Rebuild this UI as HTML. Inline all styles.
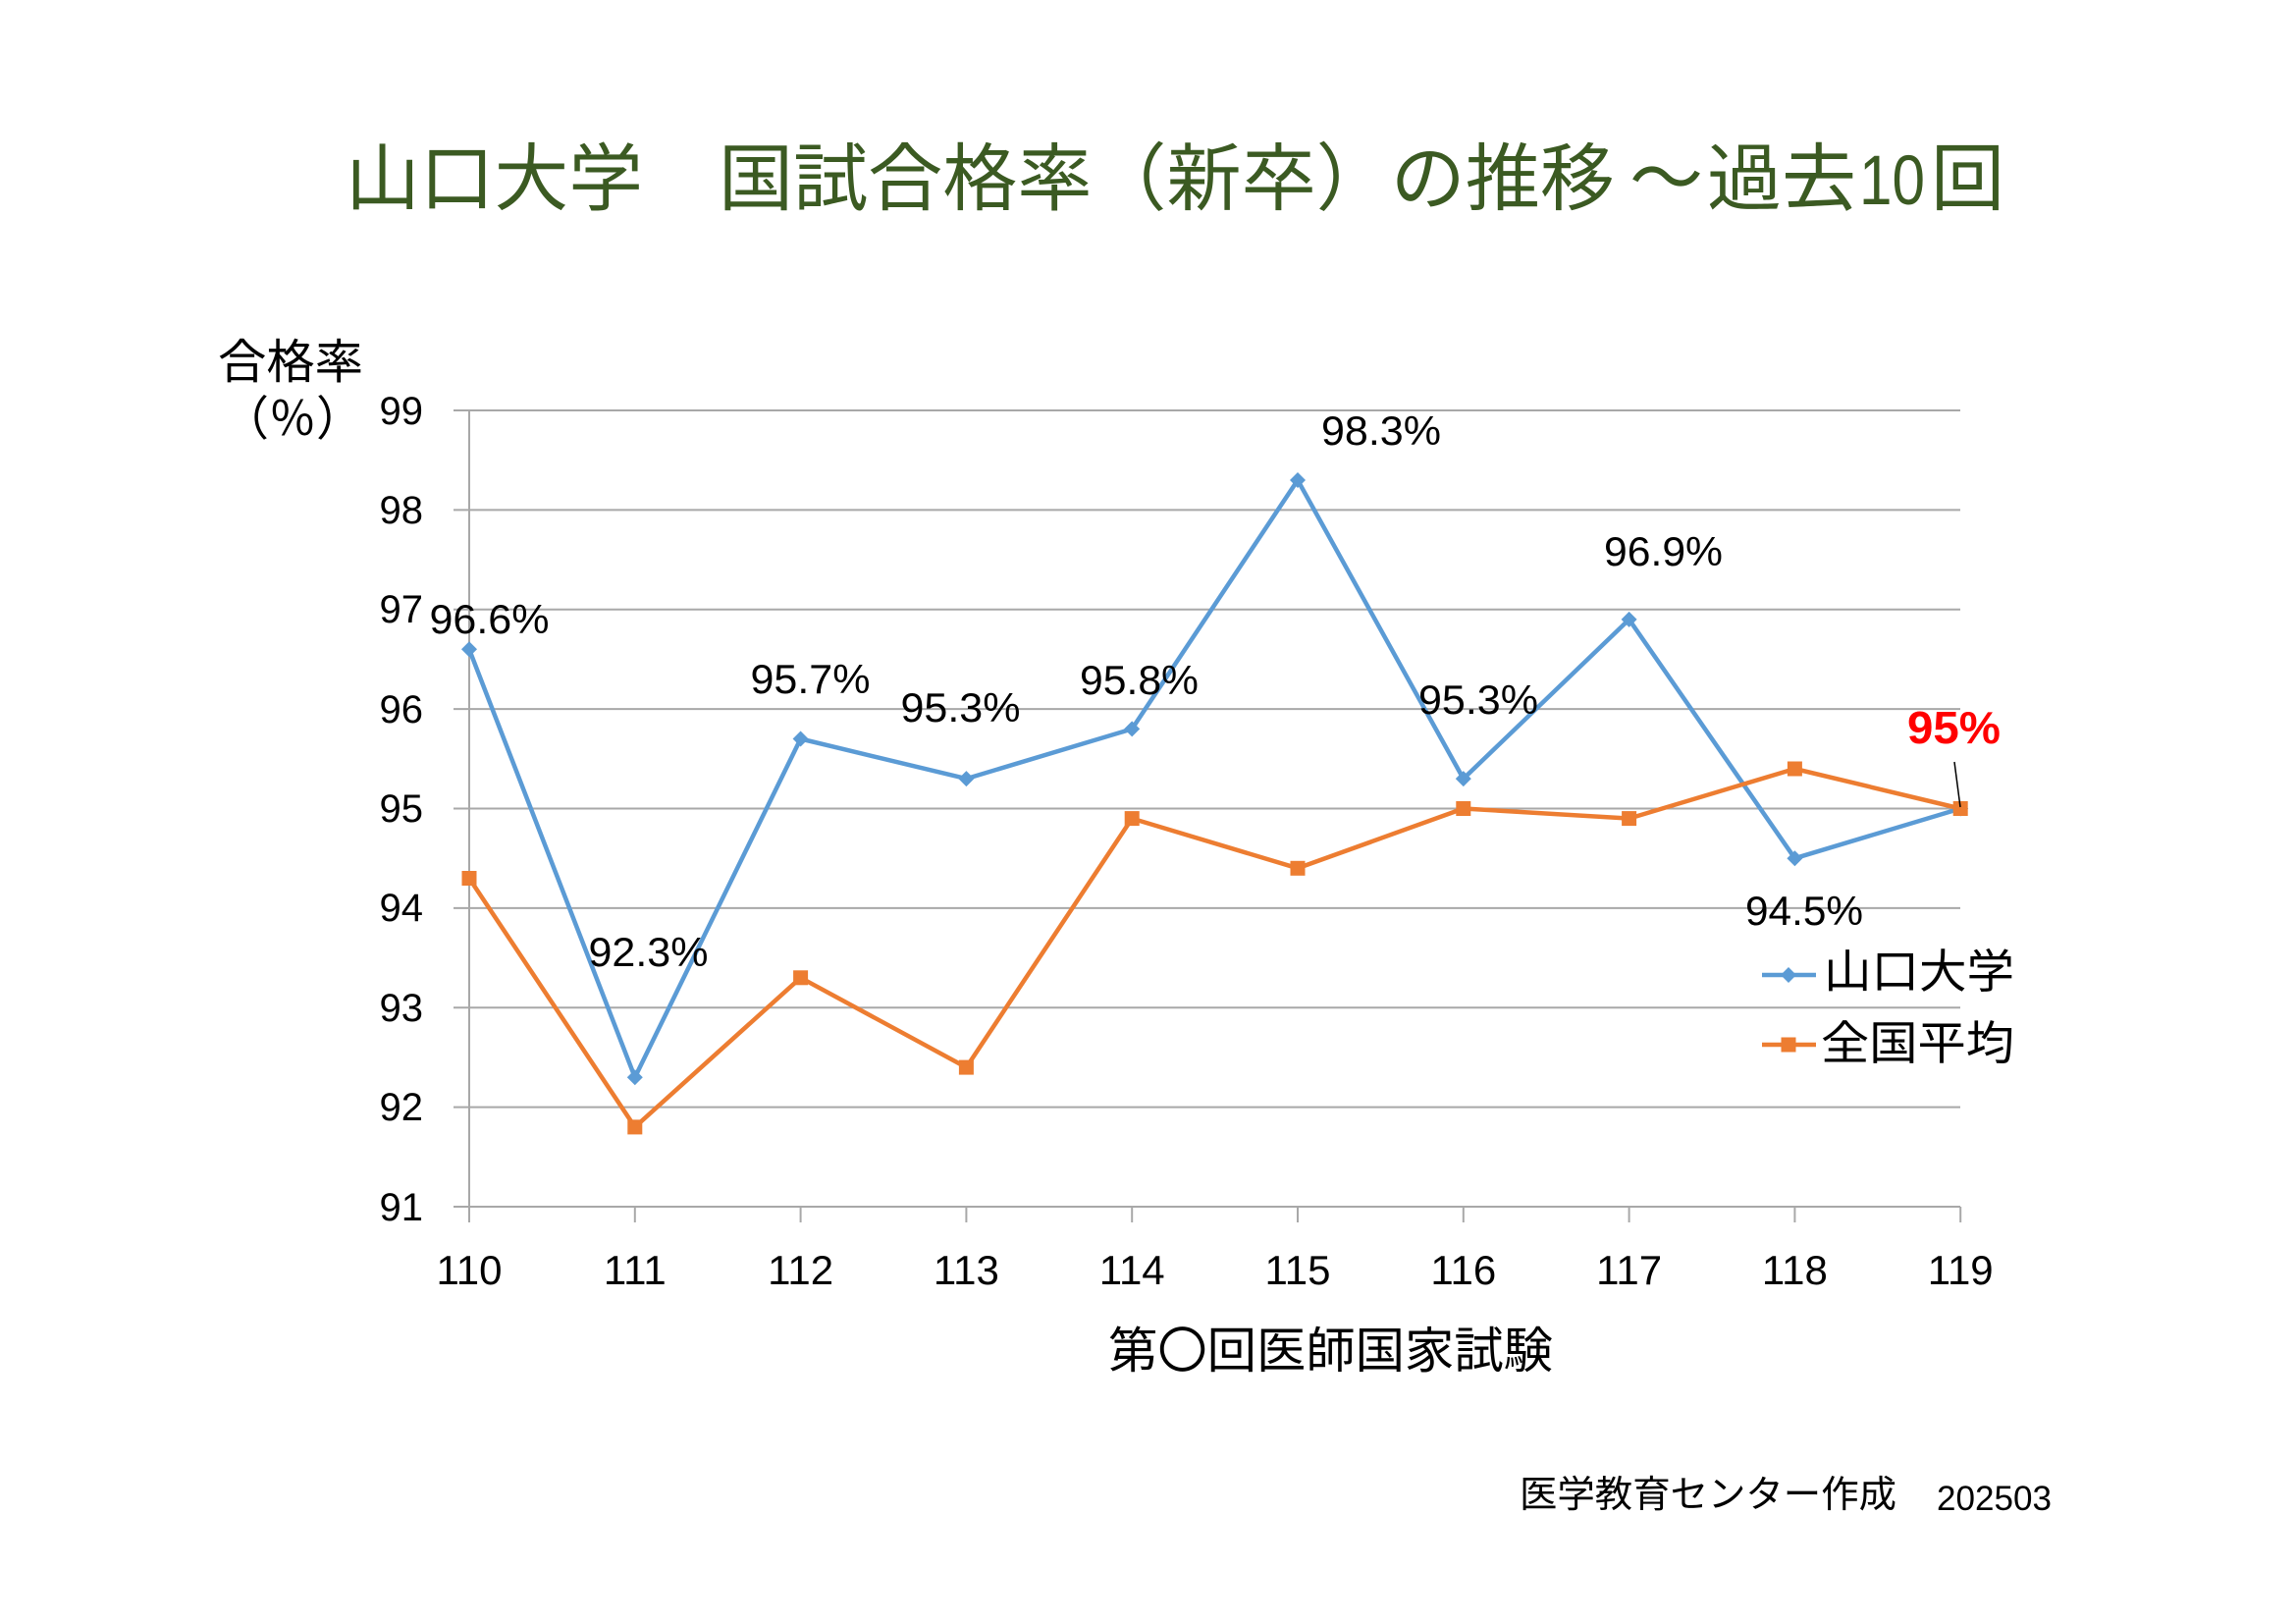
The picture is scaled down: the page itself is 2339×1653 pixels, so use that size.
<!DOCTYPE html>
<html>
<head>
<meta charset="utf-8">
<style>
html,body{margin:0;padding:0;background:#fff;}
svg{display:block;}
.cjk{font-family:"Liberation Sans","Noto Sans CJK JP",sans-serif;}
.lat{font-family:"Liberation Sans",sans-serif;}
</style>
</head>
<body>
<svg width="2339" height="1653" viewBox="0 0 2339 1653" xmlns="http://www.w3.org/2000/svg">
<rect width="2339" height="1653" fill="#fff"/>

<!-- Title -->
<g fill="#3B5A22" class="cjk" font-size="75">
  <text x="352" y="208" textLength="303" lengthAdjust="spacingAndGlyphs">山口大学</text>
  <text x="732" y="208" textLength="913" lengthAdjust="spacingAndGlyphs">国試合格率（新卒）の推移</text>
  <text x="1660" y="208">～</text>
  <text x="1739" y="208" textLength="152" lengthAdjust="spacingAndGlyphs">過去</text>
  <text x="1894" y="208" class="lat" font-size="71" textLength="67" lengthAdjust="spacingAndGlyphs">10</text>
  <text x="1967" y="208">回</text>
</g>

<!-- Gridlines -->
<g stroke="#A8A8A8" stroke-width="2">
  <line x1="462" y1="418" x2="1997" y2="418"/>
  <line x1="462" y1="519.4" x2="1997" y2="519.4"/>
  <line x1="462" y1="620.75" x2="1997" y2="620.75"/>
  <line x1="462" y1="722.1" x2="1997" y2="722.1"/>
  <line x1="462" y1="823.5" x2="1997" y2="823.5"/>
  <line x1="462" y1="924.9" x2="1997" y2="924.9"/>
  <line x1="462" y1="1026.25" x2="1997" y2="1026.25"/>
  <line x1="462" y1="1127.6" x2="1997" y2="1127.6"/>
  <line x1="462" y1="1229" x2="1997" y2="1229"/>
  <!-- vertical axis -->
  <line x1="478" y1="418" x2="478" y2="1245"/>
  <!-- ticks -->
  <line x1="646.8" y1="1229" x2="646.8" y2="1245"/>
  <line x1="815.6" y1="1229" x2="815.6" y2="1245"/>
  <line x1="984.4" y1="1229" x2="984.4" y2="1245"/>
  <line x1="1153.2" y1="1229" x2="1153.2" y2="1245"/>
  <line x1="1322" y1="1229" x2="1322" y2="1245"/>
  <line x1="1490.8" y1="1229" x2="1490.8" y2="1245"/>
  <line x1="1659.6" y1="1229" x2="1659.6" y2="1245"/>
  <line x1="1828.4" y1="1229" x2="1828.4" y2="1245"/>
  <line x1="1997.2" y1="1229" x2="1997.2" y2="1245"/>
</g>

<!-- Y tick labels -->
<g class="lat" font-size="40" fill="#000" text-anchor="end">
  <text x="431" y="432">99</text>
  <text x="431" y="533">98</text>
  <text x="431" y="634">97</text>
  <text x="431" y="736">96</text>
  <text x="431" y="837">95</text>
  <text x="431" y="938">94</text>
  <text x="431" y="1040">93</text>
  <text x="431" y="1141">92</text>
  <text x="431" y="1243">91</text>
</g>

<!-- X tick labels -->
<g class="lat" font-size="42" fill="#000" text-anchor="middle">
  <text x="478" y="1308">110</text>
  <text x="646.8" y="1308">111</text>
  <text x="815.6" y="1308">112</text>
  <text x="984.4" y="1308">113</text>
  <text x="1153.2" y="1308">114</text>
  <text x="1322" y="1308">115</text>
  <text x="1490.8" y="1308">116</text>
  <text x="1659.6" y="1308">117</text>
  <text x="1828.4" y="1308">118</text>
  <text x="1997.2" y="1308">119</text>
</g>

<!-- Axis titles -->
<g class="cjk" fill="#000">
  <text x="222" y="385" font-size="48" textLength="148" lengthAdjust="spacingAndGlyphs">合格率</text>
  <text x="226" y="443" font-size="48">（％）</text>
  <text x="1129" y="1393" font-size="50" textLength="453" lengthAdjust="spacingAndGlyphs">第〇回医師国家試験</text>
</g>

<!-- Blue series -->
<polyline fill="none" stroke="#5B9BD5" stroke-width="4.5" stroke-linejoin="round"
  points="478,661.3 646.8,1097.2 815.6,752.5 984.4,793.1 1153.2,742.4 1322,489 1490.8,793.1 1659.6,630.9 1828.4,874.2 1997.2,823.5"/>
<g fill="#5B9BD5">
  <polygon points="478,653.3 486,661.3 478,669.3 470,661.3"/>
  <polygon points="646.8,1089.2 654.8,1097.2 646.8,1105.2 638.8,1097.2"/>
  <polygon points="815.6,744.5 823.6,752.5 815.6,760.5 807.6,752.5"/>
  <polygon points="984.4,785.1 992.4,793.1 984.4,801.1 976.4,793.1"/>
  <polygon points="1153.2,734.4 1161.2,742.4 1153.2,750.4 1145.2,742.4"/>
  <polygon points="1322,481 1330,489 1322,497 1314,489"/>
  <polygon points="1490.8,785.1 1498.8,793.1 1490.8,801.1 1482.8,793.1"/>
  <polygon points="1659.6,622.9 1667.6,630.9 1659.6,638.9 1651.6,630.9"/>
  <polygon points="1828.4,866.2 1836.4,874.2 1828.4,882.2 1820.4,874.2"/>
  <polygon points="1997.2,815.5 2005.2,823.5 1997.2,831.5 1989.2,823.5"/>
</g>

<!-- Orange series -->
<polyline fill="none" stroke="#ED7D31" stroke-width="4.5" stroke-linejoin="round"
  points="478,894.5 646.8,1147.9 815.6,995.8 984.4,1087.1 1153.2,833.6 1322,884.3 1490.8,823.5 1659.6,833.6 1828.4,783 1997.2,823.5"/>
<g fill="#ED7D31">
  <rect x="470.5" y="887" width="15" height="15"/>
  <rect x="639.3" y="1140.4" width="15" height="15"/>
  <rect x="808.1" y="988.3" width="15" height="15"/>
  <rect x="976.9" y="1079.6" width="15" height="15"/>
  <rect x="1145.7" y="826.1" width="15" height="15"/>
  <rect x="1314.5" y="876.8" width="15" height="15"/>
  <rect x="1483.3" y="816" width="15" height="15"/>
  <rect x="1652.1" y="826.1" width="15" height="15"/>
  <rect x="1820.9" y="775.5" width="15" height="15"/>
  <rect x="1989.7" y="816" width="15" height="15"/>
</g>

<!-- Data labels -->
<g class="lat" font-size="42" fill="#000" text-anchor="middle">
  <text x="498.5" y="645" textLength="122" lengthAdjust="spacingAndGlyphs">96.6%</text>
  <text x="660.5" y="984" textLength="122" lengthAdjust="spacingAndGlyphs">92.3%</text>
  <text x="825.5" y="706" textLength="122" lengthAdjust="spacingAndGlyphs">95.7%</text>
  <text x="978.5" y="735" textLength="122" lengthAdjust="spacingAndGlyphs">95.3%</text>
  <text x="1160.5" y="707" textLength="121" lengthAdjust="spacingAndGlyphs">95.8%</text>
  <text x="1407" y="453" textLength="122" lengthAdjust="spacingAndGlyphs">98.3%</text>
  <text x="1506" y="727" textLength="122" lengthAdjust="spacingAndGlyphs">95.3%</text>
  <text x="1694.5" y="576" textLength="121" lengthAdjust="spacingAndGlyphs">96.9%</text>
  <text x="1838" y="942" textLength="120" lengthAdjust="spacingAndGlyphs">94.5%</text>
</g>
<text x="1990.5" y="757" class="lat" font-size="46" font-weight="bold" fill="#FF0000" text-anchor="middle" textLength="95" lengthAdjust="spacingAndGlyphs">95%</text>
<line x1="1991" y1="776" x2="1997" y2="822" stroke="#000" stroke-width="1.5"/>

<!-- Legend -->
<line x1="1795" y1="993" x2="1850" y2="993" stroke="#5B9BD5" stroke-width="4.5"/>
<polygon points="1822,985 1830,993 1822,1001 1814,993" fill="#5B9BD5"/>
<line x1="1795" y1="1064" x2="1850" y2="1064" stroke="#ED7D31" stroke-width="4.5"/>
<rect x="1814.5" y="1056.5" width="15" height="15" fill="#ED7D31"/>
<g class="cjk" font-size="47" fill="#000">
  <text x="1858" y="1006" textLength="194" lengthAdjust="spacingAndGlyphs">山口大学</text>
  <text x="1855" y="1079" textLength="197" lengthAdjust="spacingAndGlyphs">全国平均</text>
</g>

<!-- Footer -->
<text x="1548" y="1535" class="cjk" font-size="38" fill="#000" textLength="384" lengthAdjust="spacingAndGlyphs">医学教育センター作成</text>
<text x="1973" y="1538" class="lat" font-size="35" fill="#000" textLength="117" lengthAdjust="spacingAndGlyphs">202503</text>
</svg>
</body>
</html>
